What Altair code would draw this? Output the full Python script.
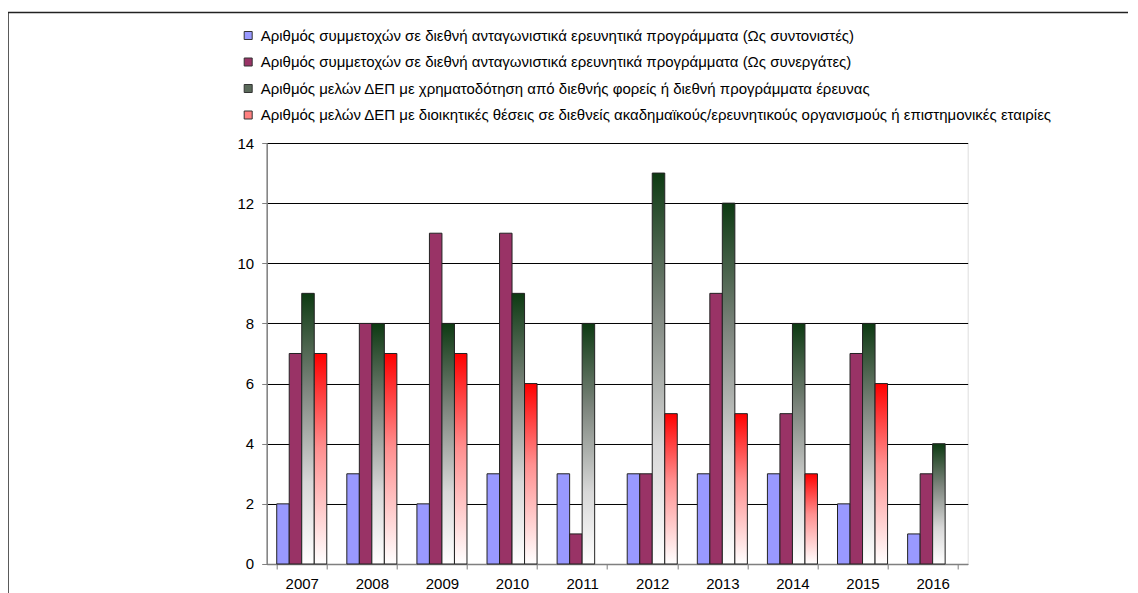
import altair as alt
import pandas as pd

years = ["2007", "2008", "2009", "2010", "2011", "2012", "2013", "2014", "2015", "2016"]
series_names = [
    "Αριθμός συμμετοχών σε διεθνή ανταγωνιστικά ερευνητικά προγράμματα (Ως συντονιστές)",
    "Αριθμός συμμετοχών σε διεθνή ανταγωνιστικά ερευνητικά προγράμματα (Ως συνεργάτες)",
    "Αριθμός μελών ΔΕΠ με χρηματοδότηση από διεθνής φορείς ή διεθνή προγράμματα έρευνας",
    "Αριθμός μελών ΔΕΠ με διοικητικές θέσεις σε διεθνείς ακαδημαϊκούς/ερευνητικούς οργανισμούς ή επιστημονικές εταιρίες",
]
coordinators = [2, 3, 2, 3, 3, 3, 3, 3, 2, 1]
partners = [7, 8, 11, 11, 1, 3, 9, 5, 7, 3]
funded = [9, 8, 8, 9, 8, 13, 12, 8, 8, 4]
admin = [7, 7, 7, 6, 0, 5, 5, 3, 6, 0]
y_ticks = [0, 2, 4, 6, 8, 10, 12, 14]

legend_colors = ["#9999FF", "#993366", "#5a6a5a", "#FF8080"]

rows = []
for vals, name in zip([coordinators, partners, funded, admin], series_names):
    for yr, v in zip(years, vals):
        rows.append({"year": yr, "series": name, "value": v})
df = pd.DataFrame(rows)

FONT = "Liberation Sans"
FS = 15
W, H = 701, 421
LEFT, TOP = 258.7, 135

x_enc = alt.X("year:N", title=None, sort=years,
              scale=alt.Scale(paddingInner=0.286, paddingOuter=0.143),
              axis=alt.Axis(labelAngle=0, labelFontSize=FS, labelFont=FONT, labelColor="#000",
                            tickBand="extent", tickSize=5, tickColor="#808080",
                            domainColor="#808080", domainWidth=1.5, labelPadding=8,
                            grid=False))
xoff = alt.XOffset("series:N", sort=series_names, scale=alt.Scale(domain=series_names))
y_enc = alt.Y("value:Q", title=None,
              scale=alt.Scale(domain=[0, 14], nice=False),
              axis=alt.Axis(values=y_ticks, labelFontSize=FS, labelFont=FONT, labelColor="#000",
                            tickSize=5, tickColor="#808080", domainColor="#808080",
                            domainWidth=1.5, labelPadding=8, grid=True,
                            gridColor="#000", gridWidth=1, gridOpacity=1))

base = alt.Chart(df).transform_filter("datum.value > 0")

solid = base.transform_filter(
    alt.FieldOneOfPredicate(field="series", oneOf=series_names[:2])
).mark_bar(stroke="#222", strokeWidth=1).encode(
    x=x_enc, xOffset=xoff, y=y_enc,
    color=alt.Color("series:N", sort=series_names,
                    scale=alt.Scale(domain=series_names, range=legend_colors),
                    legend=alt.Legend(title=None, orient="none", legendX=-26, legendY=-115,
                                      direction="vertical", symbolType="square",
                                      symbolSize=64, symbolStrokeColor="#333",
                                      symbolStrokeWidth=1, labelFontSize=FS,
                                      labelFont=FONT, labelColor="#000", labelLimit=1000,
                                      rowPadding=10.5, labelOffset=5, padding=0)),
)

green_grad = alt.Gradient(
    gradient="linear", x1=0, y1=0, x2=0, y2=1,
    stops=[alt.GradientStop(color="#0d3a12", offset=0),
           alt.GradientStop(color="#7d857d", offset=0.35),
           alt.GradientStop(color="#d8d8d8", offset=0.7),
           alt.GradientStop(color="#ffffff", offset=1)],
)
red_grad = alt.Gradient(
    gradient="linear", x1=0, y1=0, x2=0, y2=1,
    stops=[alt.GradientStop(color="#ff0000", offset=0),
           alt.GradientStop(color="#ff9090", offset=0.45),
           alt.GradientStop(color="#ffffff", offset=1)],
)

green = base.transform_filter(
    alt.datum.series == series_names[2]
).mark_bar(color=green_grad, stroke="#222", strokeWidth=1).encode(
    x=x_enc, xOffset=xoff, y=y_enc)

red = base.transform_filter(
    alt.datum.series == series_names[3]
).mark_bar(color=red_grad, stroke="#222", strokeWidth=1).encode(
    x=x_enc, xOffset=xoff, y=y_enc)

border_v = alt.Chart(pd.DataFrame({"a": [0]})).mark_rule(color="#222", strokeWidth=1.5).encode(
    x=alt.value(-LEFT), y=alt.value(-TOP + 4.5), y2=alt.value(H + 60))
border_h = alt.Chart(pd.DataFrame({"a": [0]})).mark_rule(color="#222", strokeWidth=1.5).encode(
    x=alt.value(-LEFT), x2=alt.value(W + 200), y=alt.value(-TOP + 4.5))

chart = alt.layer(solid, green, red, border_v, border_h).properties(
    width=W, height=H,
    autosize=alt.AutoSizeParams(type="none"),
    padding={"left": LEFT, "top": TOP, "right": 160, "bottom": 36},
).configure_view(stroke=None).configure(background="white")

chart.save("out.html", embed_options={"renderer": "svg", "actions": False})
